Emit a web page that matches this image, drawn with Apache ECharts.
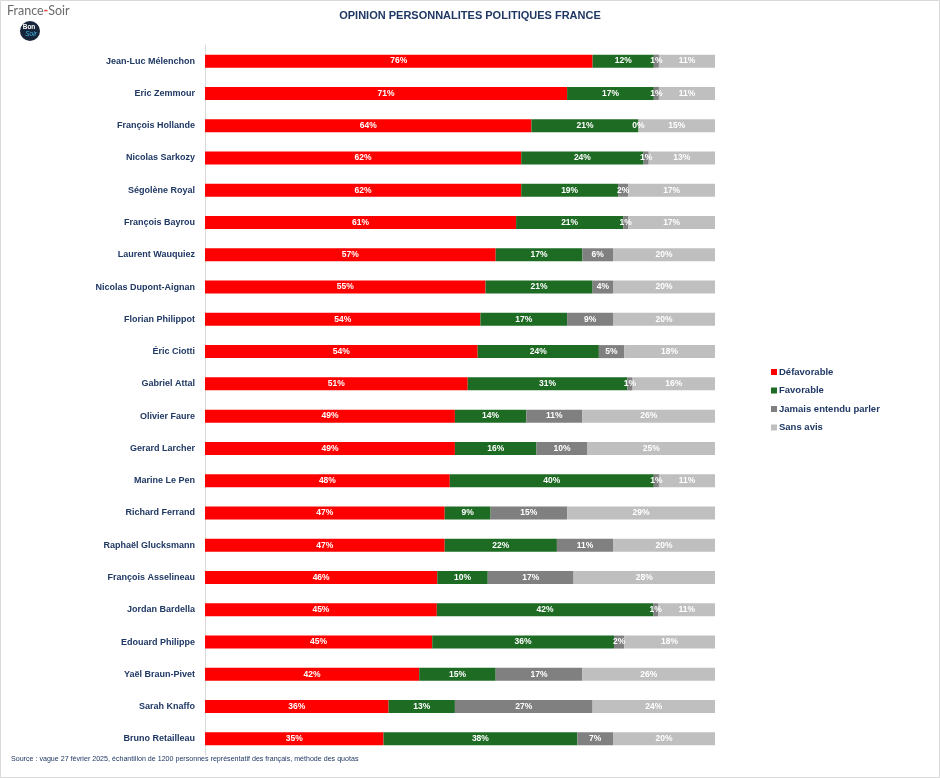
<!DOCTYPE html>
<html>
<head>
<meta charset="utf-8">
<script src="https://cdn.jsdelivr.net/npm/echarts@6/dist/echarts.min.js"></script>
<style>html,body{margin:0;padding:0;background:#fff}#c{width:940px;height:778px}</style>
</head>
<body>
<div id="c"></div>
<script>
const names = ["Jean-Luc Mélenchon","Eric Zemmour","François Hollande","Nicolas Sarkozy","Ségolène Royal","François Bayrou","Laurent Wauquiez","Nicolas Dupont-Aignan","Florian Philippot","Éric Ciotti","Gabriel Attal","Olivier Faure","Gerard Larcher","Marine Le Pen","Richard Ferrand","Raphaël Glucksmann","François Asselineau","Jordan Bardella","Edouard Philippe","Yaël Braun-Pivet","Sarah Knaffo","Bruno Retailleau"];
const defavorable = [76,71,64,62,62,61,57,55,54,54,51,49,49,48,47,47,46,45,45,42,36,35];
const favorable   = [12,17,21,24,19,21,17,21,17,24,31,14,16,40,9,22,10,42,36,15,13,38];
const jamais      = [1,1,0,1,2,1,6,4,9,5,1,11,10,1,15,11,17,1,2,17,27,7];
const sansAvis    = [11,11,15,13,17,17,20,20,20,18,16,26,25,11,29,20,28,11,18,26,24,20];
const seriesNames = ["Défavorable","Favorable","Jamais entendu parler","Sans avis"];
const colors = ["#FF0000","#1E6B24","#808080","#BFBFBF"];

const all = [defavorable, favorable, jamais, sansAvis];
const totals = names.map((_, i) => all.reduce((s, a) => s + a[i], 0));

const chart = echarts.init(document.getElementById('c'), null, {renderer: 'canvas'});
const navy = '#1F3864';
const font = '"Liberation Sans", Arial, sans-serif';
const series = all.map((arr, k) => ({
  name: seriesNames[k],
  type: 'bar',
  stack: 'total',
  barWidth: 13,
  itemStyle: {color: colors[k]},
  data: arr.map((v, i) => ({value: v / totals[i] * 100, raw: v})),
  label: {
    show: true,
    position: 'inside',
    color: '#fff',
    fontSize: 8.5,
    fontWeight: 'bold',
    fontFamily: font,
    formatter: p => p.data.raw + '%'
  },
  emphasis: {disabled: true}
}));

chart.setOption({
  animation: false,
  backgroundColor: '#fff',
  title: {
    text: 'OPINION PERSONNALITES POLITIQUES FRANCE',
    left: 470, top: 10, padding: 0, textAlign: 'center',
    textStyle: {color: navy, fontSize: 11, fontWeight: 'bold', fontFamily: font}
  },
  legend: {
    orient: 'vertical',
    left: 771, top: 367, padding: 0,
    itemWidth: 6, itemHeight: 6, itemGap: 8.5,
    icon: 'rect',
    textStyle: {color: navy, fontSize: 9.5, fontWeight: 'bold', fontFamily: font, padding: [0,0,0,-3]},
    data: seriesNames
  },
  grid: {left: 205, right: 225, top: 45, height: 710, containLabel: false},
  xAxis: {type: 'value', min: 0, max: 100, show: false},
  yAxis: {
    type: 'category', inverse: true, data: names,
    axisLine: {show: true, lineStyle: {color: '#D9D9D9'}},
    axisTick: {show: false},
    axisLabel: {color: navy, fontSize: 9, fontWeight: 'bold', fontFamily: font, margin: 10}
  },
  graphic: [
    {type: 'rect', shape: {x: 0.5, y: 0.5, width: 939, height: 777}, style: {fill: 'none', stroke: '#D9D9D9', lineWidth: 1}, silent: true},
    {type: 'text', left: 7, top: 4, style: {
      text: '{a|France}{b|-}{a|Soir}',
      rich: {
        a: {fill: '#6B6B6B', fontSize: 12.5, fontFamily: 'Lato, Noto Sans, sans-serif'},
        b: {fill: '#E53935', fontSize: 12.5, fontWeight: 'bold', fontFamily: 'Lato, Noto Sans, sans-serif'}
      }
    }},
    {type: 'circle', shape: {cx: 30, cy: 31, r: 10}, style: {fill: '#17253A'}},
    {type: 'text', x: 29, y: 27.5, style: {text: 'Bon', fill: '#fff', fontSize: 6.5, fontWeight: 'bold', align: 'center', verticalAlign: 'middle', fontFamily: font}},
    {type: 'text', x: 31, y: 34, style: {text: 'Soir', fill: '#3FB7E6', fontSize: 6.5, fontStyle: 'italic', align: 'center', verticalAlign: 'middle', fontFamily: font}},
    {type: 'text', left: 11, top: 756, style: {
      text: 'Source : vague 27 février 2025, échantillon de 1200 personnes représentatif des français, méthode des quotas',
      fill: navy, fontSize: 7.1, fontFamily: font
    }}
  ],
  series: series
});
</script>
</body>
</html>
